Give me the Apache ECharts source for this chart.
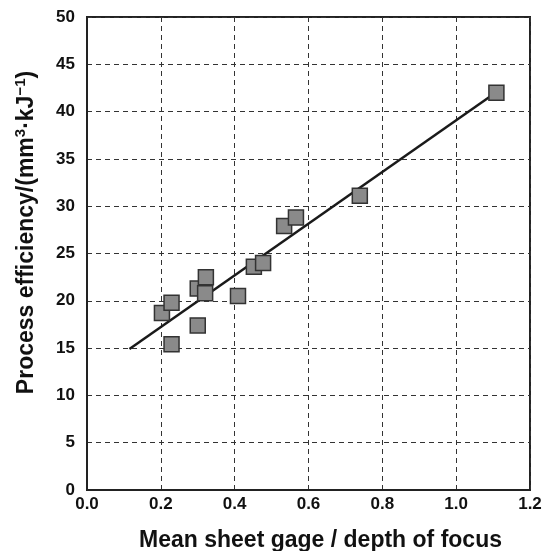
<!DOCTYPE html>
<html><head><meta charset="utf-8">
<script src="https://cdn.jsdelivr.net/npm/echarts@6/dist/echarts.min.js"></script>
<style>html,body{margin:0;padding:0;background:#fff}#c{width:548px;height:551px}</style>
</head><body><div id="c"></div>
<script>
const gageRatio = [0.203, 0.229, 0.229, 0.300, 0.320, 0.322, 0.300, 0.409, 0.452, 0.477, 0.534, 0.566, 0.739, 1.109];
const efficiency = [18.7, 19.8, 15.4, 21.3, 20.8, 22.5, 17.4, 20.5, 23.6, 24.0, 27.9, 28.8, 31.1, 42.0];
const fitX = [0.115, 1.092];
const fitY = [14.9, 41.6];

const chart = echarts.init(document.getElementById('c'), null, {renderer: 'canvas'});
const font = 'Liberation Sans, Arial, sans-serif';
chart.setOption({
  animation: false,
  grid: {left: 87, right: 18, top: 17, bottom: 61, show: true, borderColor: '#222', borderWidth: 2,
    containLabel: false, outerBoundsMode: 'none'},
  xAxis: {
    type: 'value', min: 0, max: 1.2, interval: 0.2,
    axisLine: {show: true, lineStyle: {color: '#222', width: 2}},
    axisTick: {show: false},
    splitLine: {show: true, lineStyle: {type: [5, 4], color: '#333', width: 1}},
    axisLabel: {formatter: v => v.toFixed(1), color: '#111', fontSize: 17, fontWeight: 'bold', fontFamily: font, margin: 6},
    name: 'Mean sheet gage / depth of focus', nameLocation: 'middle', nameGap: 39,
    nameTextStyle: {color: '#111', fontSize: 23, fontWeight: 'bold', fontFamily: font, padding: [0, 0, 0, 24]}
  },
  yAxis: {
    type: 'value', min: 0, max: 50, interval: 5,
    axisLine: {show: true, lineStyle: {color: '#222', width: 2}},
    axisTick: {show: false},
    splitLine: {show: true, lineStyle: {type: [5, 4], color: '#333', width: 1}},
    axisLabel: {color: '#111', fontSize: 17, fontWeight: 'bold', fontFamily: font, margin: 12},
    name: 'Process efficiency/(mm{sup|3}·kJ{sup|−1})', nameLocation: 'middle', nameGap: 47,
    nameTextStyle: {color: '#111', fontSize: 23, fontWeight: 'bold', fontFamily: font, padding: [0, 0, 0, 42],
      rich: {sup: {fontSize: 15, fontWeight: 'bold', fontFamily: font, color: '#111', verticalAlign: 'top', padding: [0, 0, 12, 0]}}}
  },
  series: [
    {
      type: 'line', data: fitX.map((x, i) => [x, fitY[i]]), showSymbol: false, symbol: 'none',
      lineStyle: {color: '#1a1a1a', width: 2.5}, z: 2
    },
    {
      type: 'scatter', data: gageRatio.map((x, i) => [x, efficiency[i]]),
      symbol: 'rect', symbolSize: 15,
      itemStyle: {color: '#8a8a8a', borderColor: '#333', borderWidth: 1.5, opacity: 1}, z: 3
    }
  ]
});
</script></body></html>
